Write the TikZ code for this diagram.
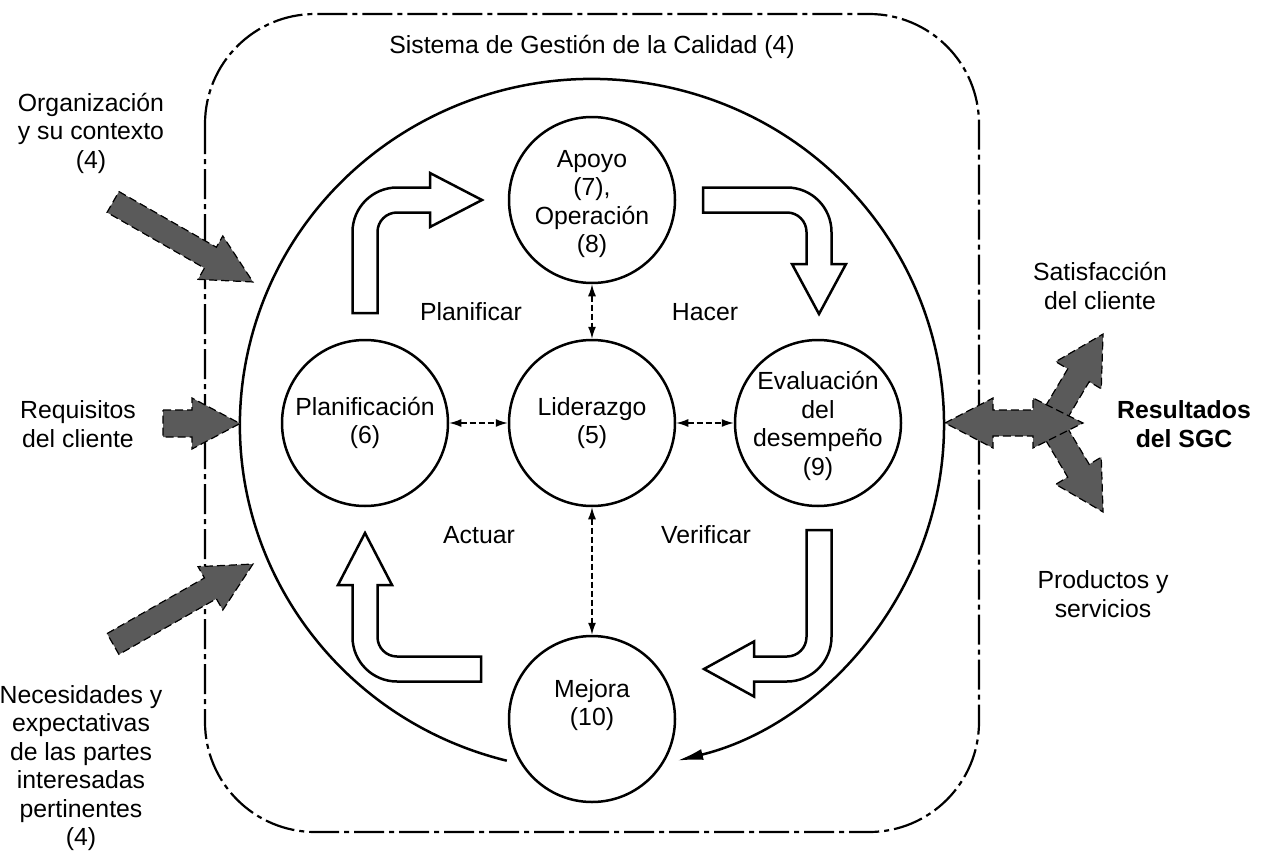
\documentclass[tikz,border=0pt]{standalone}
\usepackage{fontspec}
\setmainfont{Liberation Sans}
\usetikzlibrary{arrows.meta}
\definecolor{arrgray}{RGB}{90,90,90}
\newcommand\grayarrow[7]{% x, y, angle, length, shaft width, head width, head length
  \begin{scope}[shift={(#1,#2)},rotate=#3]
    \path[grayarr] (0,{-#5/2}) -- ({#4-#7},{-#5/2}) -- ({#4-#7},{-#6/2}) -- (#4,0)
      -- ({#4-#7},{#6/2}) -- ({#4-#7},{#5/2}) -- (0,{#5/2}) -- cycle;
  \end{scope}}
\tikzset{
  txt/.style={font=\fontsize{24.8}{28.5}\selectfont, align=center, inner sep=0pt},
  txtb/.style={font=\fontsize{24.8}{28.5}\selectfont\bfseries, align=center, inner sep=0pt},
  circ/.style={draw, circle, line width=2.5pt, minimum size=166pt, inner sep=0pt,
    font=\fontsize{24.8}{28.5}\selectfont, align=center},
  link/.style={line width=1.4pt, dash pattern=on 6pt off 3pt,
    {Latex[length=12pt,width=8pt]}-{Latex[length=12pt,width=8pt]}},
  pdca/.style={draw, line width=2.5pt, fill=white, line join=miter},
  grayarr/.style={fill=arrgray, draw=black, line width=1.2pt, dash pattern=on 8pt off 4pt},
  frame/.style={line width=2.2pt, dash pattern=on 30pt off 5pt on 5pt off 5pt, rounded corners=110pt},
  bigcycle/.style={line width=2.5pt, -{Latex[length=26pt,width=11pt]}}
}
\begin{document}
\begin{tikzpicture}[x=1pt,y=-1pt]
\useasboundingbox (0,0) rectangle (1262,854);

% frame
\draw[frame] (205,14) rectangle (979,832);
\node[txt] (title) at (592,47) {Sistema de Gestión de la Calidad (4)};

% big cycle
\draw[bigcycle] (506.8,760.7) arc[start angle=104, end angle=436, x radius=352, y radius=346];

% circles
\node[circ] (apoyo) at (592,200) {};
\node[txt] (apoyotxt) at (592,204) {Apoyo\\(7),\\Operación\\(8)};
\node[circ] (planif) at (365,423) {Planificación\\(6)};
\node[circ] (lider) at (592,423) {Liderazgo\\(5)};
\node[circ] (eval) at (818,423) {};
\node[txt] (evaltxt) at (818,426) {Evaluación\\del\\desempeño\\(9)};
\node[circ] (mejora) at (592,719) {};
\node[txt] (mejoratxt) at (592,705) {Mejora\\(10)};

% links
\draw[link] (apoyo.south) -- (lider.north);
\draw[link] (planif.east) -- (lider.west);
\draw[link] (lider.east) -- (eval.west);
\draw[link] (lider.south) -- (mejora.north);

% PDCA arrows
\draw[pdca] (352.5,313) -- (352.5,232) arc[start angle=180,end angle=270,radius=44.5]
  -- (430,187.5) -- (430,173) -- (482,200) -- (430,227) -- (430,212.5) -- (397,212.5)
  arc[start angle=270,end angle=180,radius=19.5] -- (377.5,313) -- cycle;
\draw[pdca] (703,187.5) -- (787,187.5) arc[start angle=270,end angle=360,radius=44.5]
  -- (831.5,264) -- (846,264) -- (819,314) -- (792,264) -- (806.5,264) -- (806.5,232)
  arc[start angle=360,end angle=270,radius=19.5] -- (703,212.5) -- cycle;
\draw[pdca] (806.5,530) -- (831.5,530) -- (831.5,637) arc[start angle=0,end angle=90,radius=44.5]
  -- (754,681.5) -- (754,696.5) -- (704,669) -- (754,641.5) -- (754,656.5) -- (787,656.5)
  arc[start angle=90,end angle=0,radius=19.5] -- cycle;
\draw[pdca] (481,656.5) -- (481,681.5) -- (397,681.5) arc[start angle=90,end angle=180,radius=44.5]
  -- (352.5,585) -- (338,585) -- (365,533) -- (392,585) -- (377.5,585) -- (377.5,637)
  arc[start angle=180,end angle=90,radius=19.5] -- cycle;

\node[txt] (tplan) at (471,312) {Planificar};
\node[txt] (thacer) at (705,312) {Hacer};
\node[txt] (tact) at (479,535) {Actuar};
\node[txt] (tver) at (706,535) {Verificar};

% left inputs
\grayarrow{113}{202}{-29.74}{161.2}{24}{50}{49}
\grayarrow{163}{423.5}{0}{77}{27}{51}{48}
\grayarrow{113}{644}{29.74}{161.2}{24}{50}{49}
\node[txt] (org) at (91,133) {Organización\\y su contexto\\(4)};
\node[txt] (req) at (78,424) {Requisitos\\del cliente};
\node[txt] (nec) at (81,768) {Necesidades y\\expectativas\\de las partes\\interesadas\\pertinentes\\(4)};

% right outputs
\grayarrow{1050}{423}{59.2}{103.6}{25}{53}{48}
\grayarrow{1050}{423}{-59.2}{103.6}{25}{53}{48}
\path[grayarr] (945,423) -- (993,398) -- (993,410) -- (1033,410) -- (1033,398) -- (1083,423)
  -- (1033,448) -- (1033,436) -- (993,436) -- (993,448) -- cycle;
\node[txt] (sat) at (1100,286) {Satisfacción\\del cliente};
\node[txtb] (res) at (1184,424) {Resultados\\del SGC};
\node[txt] (prod) at (1103,594) {Productos y\\servicios};
\end{tikzpicture}
\end{document}
